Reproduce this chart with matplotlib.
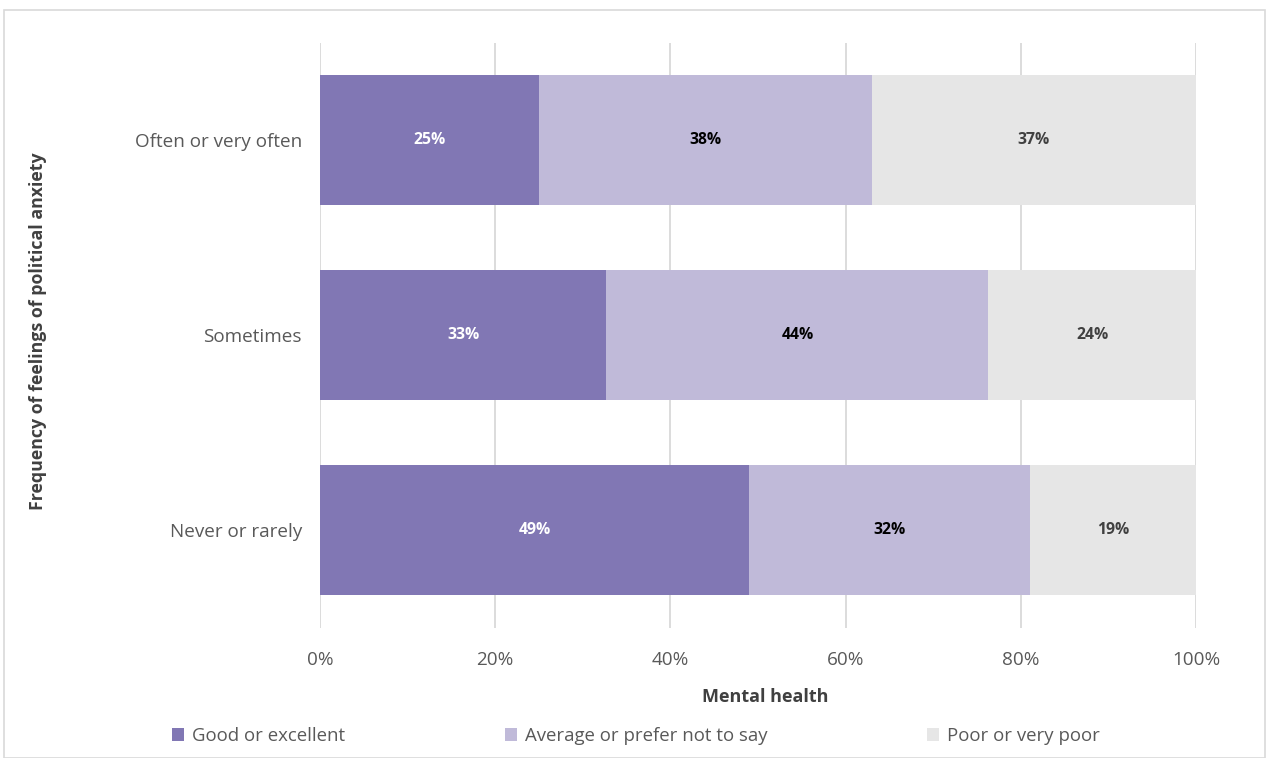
import matplotlib
matplotlib.use("Agg")
import matplotlib.pyplot as plt
from matplotlib.patches import Rectangle
import numpy as np

categories = ["Never or rarely", "Sometimes", "Often or very often"]
series_names = ["Good or excellent", "Average or prefer not to say", "Poor or very poor"]
good = [49, 33, 25]
average = [32, 44, 38]
poor = [19, 24, 37]
good_bounds = [49.0, 32.7, 25.0]
avg_bounds = [32.1, 43.6, 38.0]
colors = ["#8177B4", "#C0BAD9", "#E6E6E6"]
label_colors = ["white", "black", "#404040"]
xticks = [0, 20, 40, 60, 80, 100]

plt.rcParams['font.family'] = ['Open Sans', 'DejaVu Sans']

fig = plt.figure(figsize=(12.67, 7.58), dpi=100)
W, H = 1267, 758
ax = fig.add_axes([320 / W, 1 - 627.5 / H, 876 / W, (627.5 - 42.5) / H])

y = np.arange(len(categories))
widths = [good_bounds, avg_bounds, [100 - g - a for g, a in zip(good_bounds, avg_bounds)]]
texts = [good, average, poor]
left = np.zeros(len(categories))
handles = []
for i in range(3):
    b = ax.barh(y, widths[i], left=left, height=0.667, color=colors[i], label=series_names[i], zorder=3)
    handles.append(b)
    for j in range(len(categories)):
        ax.text(left[j] + widths[i][j] / 2, y[j], f"{texts[i][j]}%", ha="center", va="center",
                color=label_colors[i], fontsize=11.3, fontweight="bold", zorder=4)
    left = left + np.array(widths[i])

ax.set_xlim(0, 100)
ax.set_ylim(-0.5, 2.5)
ax.set_xticks(xticks)
ax.set_xticklabels([f"{t}%" for t in xticks])
ax.set_yticks(y)
ax.set_yticklabels(categories)
ax.grid(axis="x", color="#D9D9D9", linewidth=1.3, zorder=0)
for s in ax.spines.values():
    s.set_visible(False)
ax.tick_params(length=0, labelsize=13.6, labelcolor="#595959")
ax.tick_params(axis="x", pad=17)
ax.tick_params(axis="y", pad=13)

fig.text(765 / W, 1 - 697 / H, "Mental health", ha="center", va="center",
         fontsize=13, fontweight="bold", color="#404040")
fig.text(38 / W, 1 - 331 / H, "Frequency of feelings of political anxiety", rotation=90,
         ha="center", va="center", fontsize=12.8, fontweight="bold", color="#404040")

leg = fig.legend(handles=handles, labels=series_names, loc="center", bbox_to_anchor=(636 / W, 1 - 736 / H),
                 ncol=3, frameon=False, fontsize=13.4, handlelength=0.65, handleheight=0.65,
                 handletextpad=0.4, columnspacing=8.6, labelcolor="#595959")

fig.patches.append(Rectangle((4 / W, 0), (1265 - 4) / W, 1 - 10 / H, transform=fig.transFigure,
                             fill=False, edgecolor="#D9D9D9", linewidth=1.2))

fig.savefig("out.png", dpi=100, facecolor="white")
